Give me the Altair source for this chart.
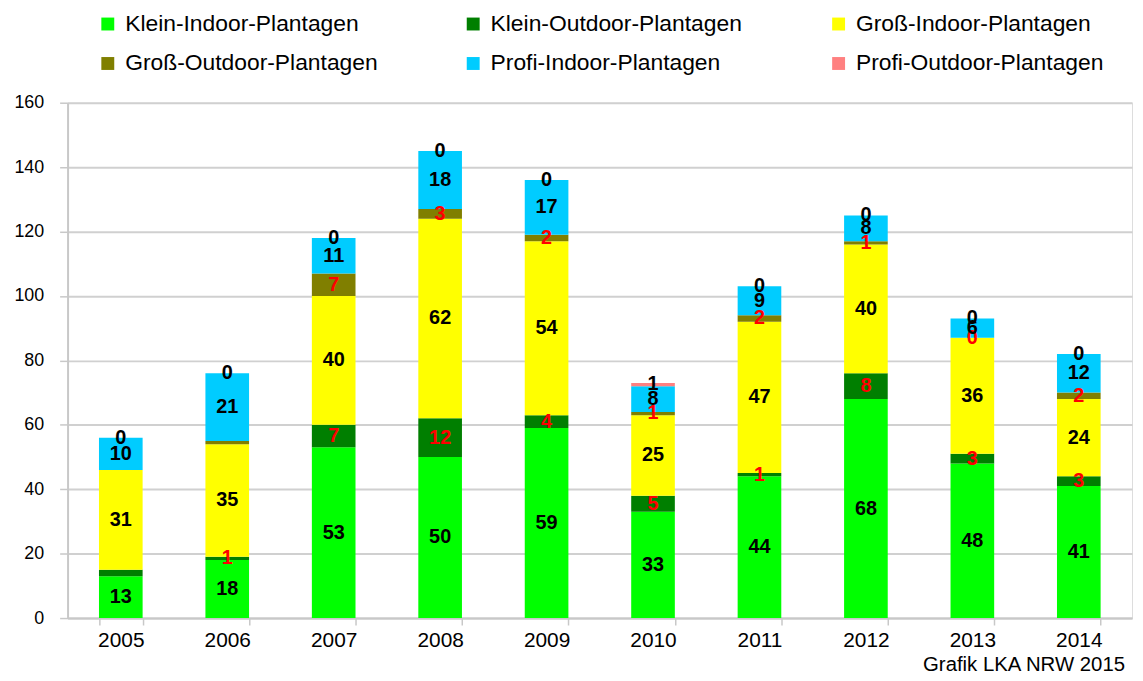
import altair as alt
import pandas as pd

years = ["2005", "2006", "2007", "2008", "2009", "2010", "2011", "2012", "2013", "2014"]
series = [
    "Klein-Indoor-Plantagen",
    "Klein-Outdoor-Plantagen",
    "Groß-Indoor-Plantagen",
    "Groß-Outdoor-Plantagen",
    "Profi-Indoor-Plantagen",
    "Profi-Outdoor-Plantagen",
]
klein_indoor = [13, 18, 53, 50, 59, 33, 44, 68, 48, 41]
klein_outdoor = [2, 1, 7, 12, 4, 5, 1, 8, 3, 3]
gross_indoor = [31, 35, 40, 62, 54, 25, 47, 40, 36, 24]
gross_outdoor = [0, 1, 7, 3, 2, 1, 2, 1, 0, 2]
profi_indoor = [10, 21, 11, 18, 17, 8, 9, 8, 6, 12]
profi_outdoor = [0, 0, 0, 0, 0, 1, 0, 0, 0, 0]
colors = ["#00ff00", "#007f00", "#ffff00", "#807f00", "#00ccff", "#ff8080"]
red_label_series = ["Klein-Outdoor-Plantagen", "Groß-Outdoor-Plantagen"]
hidden_labels = [("2005", "Klein-Outdoor-Plantagen"), ("2005", "Groß-Outdoor-Plantagen"),
                 ("2006", "Groß-Outdoor-Plantagen")]
y_ticks = [0, 20, 40, 60, 80, 100, 120, 140, 160]
source_note = "Grafik LKA NRW 2015"

values = [klein_indoor, klein_outdoor, gross_indoor, gross_outdoor, profi_indoor, profi_outdoor]
rows = []
for si, (s, vals) in enumerate(zip(series, values)):
    for y, v in zip(years, vals):
        rows.append({
            "year": y, "series": s, "value": v, "order": si,
            "show": 0 if (y, s) in hidden_labels else 1,
            "red": 1 if s in red_label_series else 0,
        })
df = pd.DataFrame(rows)

FONT = "Liberation Sans"
W, H = 1072, 519

x_enc = alt.X("year:N", sort=years, title=None,
              scale=alt.Scale(paddingInner=0.59, paddingOuter=0.295),
              axis=alt.Axis(labelAngle=0, labelFontSize=21, labelFont=FONT, labelColor="black",
                            tickBand="extent", tickSize=7, tickColor="#c8c8c8", tickWidth=1.5,
                            domainColor="#c8c8c8", domainWidth=2, labelPadding=5))

base = alt.Chart(df).transform_stack(
    stack="value", groupby=["year"], as_=["y0", "y1"],
    sort=[alt.SortField("order", order="ascending")]
)

bars = base.mark_bar().encode(
    x=x_enc,
    y=alt.Y("y0:Q", title=None,
            scale=alt.Scale(domain=[0, 160], nice=False),
            axis=alt.Axis(values=y_ticks, labelFontSize=18, labelFont=FONT, labelColor="black",
                          grid=True, gridColor="#d0d0d0", gridWidth=2,
                          tickSize=8, tickColor="#c8c8c8", tickWidth=1.5,
                          domainColor="#c8c8c8", domainWidth=2, labelPadding=16)),
    y2="y1:Q",
    color=alt.Color("series:N", sort=series,
                    scale=alt.Scale(domain=series, range=colors),
                    legend=alt.Legend(title=None, orient="none", legendX=29, legendY=-91,
                                      direction="horizontal", columns=3, gridAlign="all",
                                      columnPadding=84, rowPadding=16, padding=0,
                                      symbolType="square", symbolSize=169, symbolStrokeWidth=0,
                                      labelFontSize=23, labelFont=FONT, labelColor="black",
                                      labelOffset=6, labelLimit=400)),
    order=alt.Order("order:Q"),
)

labels = base.transform_filter("datum.show == 1").transform_calculate(
    mid="(datum.y0 + datum.y1) / 2"
).mark_text(font=FONT, fontSize=20, fontWeight="bold", baseline="middle").encode(
    x=alt.X("year:N", sort=years),
    y=alt.Y("mid:Q"),
    text=alt.Text("value:Q"),
    color=alt.condition("datum.red == 1", alt.value("#ff0000"), alt.value("black")),
)

note = alt.Chart(pd.DataFrame({"t": [source_note]})).mark_text(
    font=FONT, fontSize=20.5, align="right", baseline="middle", color="black"
).encode(x=alt.value(W - 7), y=alt.value(H + 47), text="t:N")

chart = alt.layer(bars, labels, note).properties(
    width=W, height=H,
    autosize=alt.AutoSizeParams(type="none"),
    padding={"left": 60, "top": 93, "right": 3, "bottom": 60},
).configure_view(stroke="#c8c8c8", strokeWidth=2).configure(background="white")

chart.save("out.html", embed_options={"renderer": "svg", "actions": False})
